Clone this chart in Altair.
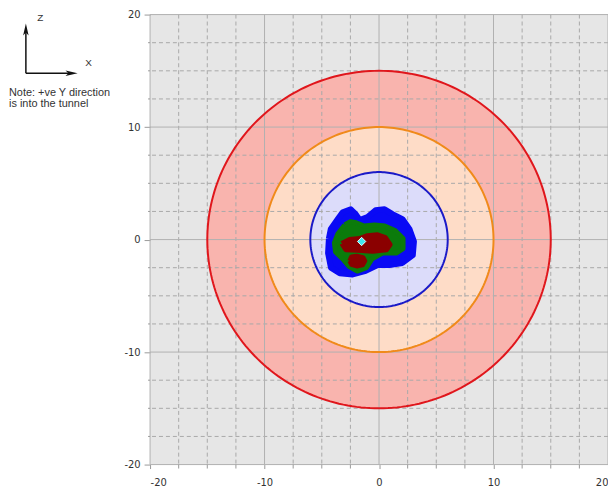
import altair as alt
import numpy as np
import pandas as pd

# ---- axis values ----
MAJOR = [-20, -10, 0, 10, 20]
MINOR = [-17.5, -15, -12.5, -7.5, -5, -2.5, 2.5, 5, 7.5, 12.5, 15, 17.5]

# ---- concentric zones (radius in axis units) ----
ZONE_NAMES = ["outer", "middle", "inner"]
ZONE_RADII = [15, 10, 6]
ZONE_FILLS = ["#f9b4ae", "#fedcc7", "#dcdcfa"]
ZONE_STROKES = ["#e0161c", "#f08a1a", "#1a1ac8"]

# ---- scatter footprint outlines ----
BLUE_X = [-4.38, -4.21, -3.6, -3.17, -2.47, -2.04, -1.69, -1.0, -0.3, 0.48, 1.17, 2.04,
          2.65, 3.05, 2.95, 2.04, 0.9, -0.13, -1.17, -2.3, -3.43, -4.2, -4.45]
BLUE_Y = [0.09, 0.95, 1.82, 2.43, 2.69, 2.26, 1.74, 2.0, 2.6, 2.69, 2.26, 1.82,
          0.95, -0.17, -1.39, -2.08, -2.26, -2.26, -2.78, -3.1, -3.0, -2.5, -1.2]
GREEN_X = [-3.0, -2.5, -2.0, -1.3, -0.4, 0.5, 1.4, 2.1, 2.1, 1.5, 0.3, -0.6, -1.1,
           -1.9, -2.6, -3.1, -3.8, -3.9, -3.6]
GREEN_Y = [1.3, 1.6, 1.5, 1.2, 1.3, 1.2, 0.8, 0.1, -0.8, -1.2, -1.2, -1.7, -2.5,
           -2.8, -2.4, -1.8, -1.1, -0.3, 0.5]
RED1_X = [-3.25, -2.56, -1.69, -1.0, -0.13, 0.56, 0.97, 0.65, -0.56, -1.87, -2.9]
RED1_Y = [-0.35, 0.0, 0.09, 0.35, 0.43, 0.17, -0.45, -0.9, -1.04, -0.95, -0.9]
RED2_X = [-2.55, -2.4, -1.95, -1.4, -1.25, -1.45, -1.95, -2.4]
RED2_Y = [-1.9, -1.55, -1.47, -1.6, -1.9, -2.25, -2.35, -2.2]
DIAMOND_X = [-1.52]
DIAMOND_Y = [-0.17]

W, H = 461, 453
XS = alt.Scale(domain=[-20, 20], nice=False, zero=False)
YS = alt.Scale(domain=[-20, 20], nice=False, zero=False)
LBL = "datum.value + ''"
XAX = alt.Axis(values=MAJOR, grid=False, tickSize=4, labelPadding=9, domain=False,
               title=None, tickColor="#999999", labelExpr=LBL)
YAX = alt.Axis(values=MAJOR, grid=False, tickSize=6, labelPadding=4, domain=False,
               title=None, tickColor="#999999", labelExpr=LBL)


def X(f):
    return alt.X(f, scale=XS, axis=XAX)


def Y(f):
    return alt.Y(f, scale=YS, axis=YAX)


def poly_df(xs, ys):
    xs = list(xs) + [xs[0]]
    ys = list(ys) + [ys[0]]
    return pd.DataFrame({"x": xs, "y": ys, "i": range(len(xs))})


def circle_df(r):
    t = np.linspace(0, 2 * np.pi, 241)
    return pd.DataFrame({"x": r * np.cos(t), "y": r * np.sin(t), "i": range(len(t))})


def enc(ch):
    return ch.encode(x=X("x:Q"), y=Y("y:Q"), order="i:Q")


layers = []
# zone fills
for r, f in zip(ZONE_RADII, ZONE_FILLS):
    layers.append(enc(alt.Chart(circle_df(r)).mark_line(fill=f, strokeOpacity=0)))

# grid
minor_df = pd.DataFrame({"v": MINOR})
major_df = pd.DataFrame({"v": MAJOR})
dash = [4, 3]
layers.append(alt.Chart(minor_df).mark_rule(color="#a8a8a8", strokeDash=dash, strokeWidth=1)
              .encode(x=X("v:Q")))
layers.append(alt.Chart(minor_df).mark_rule(color="#a8a8a8", strokeDash=dash, strokeWidth=1)
              .encode(y=Y("v:Q")))
layers.append(alt.Chart(major_df).mark_rule(color="#b0b0b0", strokeWidth=1)
              .encode(x=X("v:Q")))
layers.append(alt.Chart(major_df).mark_rule(color="#b0b0b0", strokeWidth=1)
              .encode(y=Y("v:Q")))
# minor ticks outside plot
layers.append(alt.Chart(minor_df).mark_rule(color="#999999")
              .encode(x=X("v:Q"), y=alt.value(H), y2=alt.value(H + 4)))
layers.append(alt.Chart(minor_df).mark_rule(color="#999999")
              .encode(y=Y("v:Q"), x=alt.value(-2), x2=alt.value(0)))

# zone outlines
for r, s in zip(ZONE_RADII, ZONE_STROKES):
    layers.append(enc(alt.Chart(circle_df(r)).mark_line(color=s, strokeWidth=2)))

# footprint
for xs, ys, c, sw in [(BLUE_X, BLUE_Y, "#0a0af5", 6), (GREEN_X, GREEN_Y, "#0b7b0b", 5),
                      (RED1_X, RED1_Y, "#8b0000", 5), (RED2_X, RED2_Y, "#8b0000", 5)]:
    layers.append(enc(alt.Chart(poly_df(xs, ys)).mark_line(
        fill=c, color=c, strokeWidth=sw, strokeJoin="round")))

layers.append(alt.Chart(pd.DataFrame({"x": DIAMOND_X, "y": DIAMOND_Y})).mark_point(
    shape="diamond", filled=True, size=70, fill="#40e8f0", stroke="#e0ffff", strokeWidth=1, opacity=1
).encode(x=X("x:Q"), y=Y("y:Q")))

# ---- axes key annotation (outside plot, left) ----
ann = alt.Chart(pd.DataFrame({"a": [0]}))
layers.append(ann.mark_rule(color="#111111", strokeWidth=1.5).encode(
    x=alt.value(-125), y=alt.value(17), y2=alt.value(59)))
layers.append(ann.mark_rule(color="#111111", strokeWidth=1.5).encode(
    x=alt.value(-125), x2=alt.value(-80), y=alt.value(59)))
arrow_path = "M0,-1L0.45,1L0,0.5L-0.45,1Z"
layers.append(ann.mark_point(shape=arrow_path, filled=True, color="#111111", size=150, opacity=1).encode(
    x=alt.value(-125), y=alt.value(15)))
layers.append(ann.mark_point(shape=arrow_path, filled=True, color="#111111", size=150, opacity=1, angle=90).encode(
    x=alt.value(-79), y=alt.value(59)))
layers.append(ann.mark_text(text="Z", font="Liberation Sans", fontSize=10, color="#333333").encode(
    x=alt.value(-110.5), y=alt.value(3)))
layers.append(ann.mark_text(text="X", font="Liberation Sans", fontSize=10, color="#333333").encode(
    x=alt.value(-62), y=alt.value(49)))
layers.append(ann.mark_text(text="Note: +ve Y direction", font="Liberation Sans", fontSize=11,
                            color="#333333", align="left", baseline="alphabetic").encode(
    x=alt.value(-142), y=alt.value(82)))
layers.append(ann.mark_text(text="is into the tunnel", font="Liberation Sans", fontSize=11,
                            color="#333333", align="left", baseline="alphabetic").encode(
    x=alt.value(-142), y=alt.value(93)))

chart = alt.layer(*layers).properties(
    width=W, height=H,
    autosize=alt.AutoSizeParams(type="none"),
    padding={"left": 143, "top": 5, "right": 0, "bottom": 27},
).configure_view(fill="#e6e6e6", stroke=None).configure_axis(
    labelFont="DejaVu Sans", labelFontSize=10, labelColor="#333333"
)

chart.save("out.html", embed_options={"renderer": "svg", "actions": False})
